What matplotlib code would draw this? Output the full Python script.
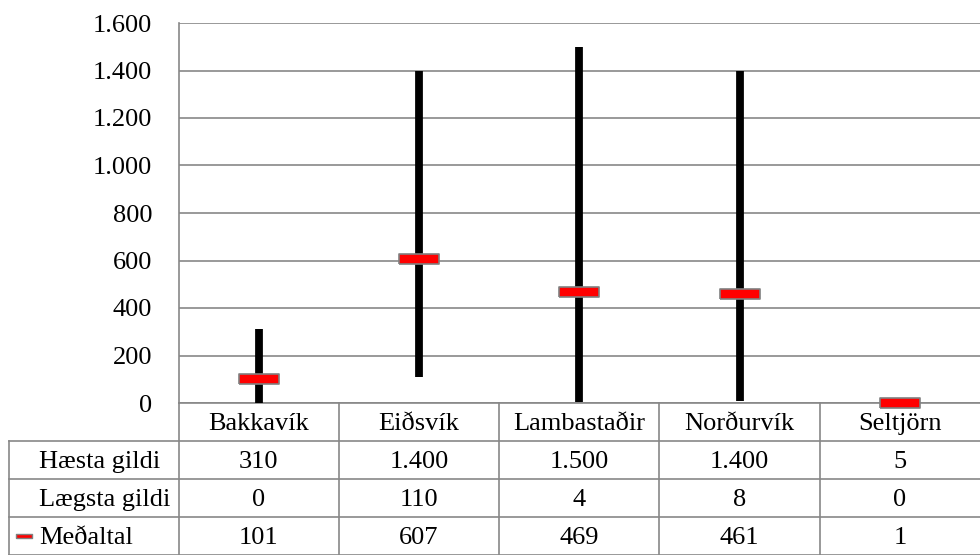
import numpy as np
import matplotlib.pyplot as plt
from matplotlib.lines import Line2D
from matplotlib.ticker import FuncFormatter

stadir = ['Bakkavík', 'Eiðsvík', 'Lambastaðir', 'Norðurvík', 'Seltjörn']
haesta = [310, 1400, 1500, 1400, 5]
laegsta = [0, 110, 4, 8, 0]
medaltal = [101, 607, 469, 461, 1]
radir = ['Hæsta gildi', 'Lægsta gildi', 'Meðaltal']

def fmt(v):
    return f"{int(v):,}".replace(",", ".")

plt.rcParams['font.family'] = ['Liberation Serif', 'DejaVu Serif']
plt.rcParams['font.size'] = 19
grey = '#878787'

W, H = 980, 555
fig = plt.figure(figsize=(W/100, H/100), dpi=100)
x0, y0, x1, y1 = 178.5, 23, 980, 403
ax = fig.add_axes([x0/W, 1 - y1/H, (x1 - x0)/W, (y1 - y0)/H])

x = np.arange(len(stadir))
ax.vlines(x, laegsta, haesta, color='black', lw=5.6, zorder=3)

# flat rectangle marker for the mean
box = [(-2, -0.5), (2, -0.5), (2, 0.5), (-2, 0.5), (-2, -0.5)]
ax.plot(x, medaltal, ls='none', marker=box, ms=29, mfc='#ff0000', mec='#808080',
        mew=1.2, zorder=4, clip_on=False)

ax.set_xlim(-0.5, len(stadir) - 0.5)
ax.set_ylim(0, 1600)
ax.set_yticks(np.arange(0, 1601, 200))
ax.yaxis.set_major_formatter(FuncFormatter(lambda v, p: fmt(v)))
ax.tick_params(axis='y', length=0, pad=19)
ax.set_xticks([])
ax.grid(axis='y', color=grey, lw=1.2)
ax.set_axisbelow(True)
for s in ['top', 'right', 'bottom']:
    ax.spines[s].set_visible(False)
ax.spines['left'].set_color(grey)
ax.spines['left'].set_linewidth(1.2)

# data table under the axis
tr = ax.get_xaxis_transform()
rh = 38 / (y1 - y0)
dy = 2 / (y1 - y0)
cw = (x1 - x0) / len(stadir)
xl = -0.5 - (x0 - 9) / cw
xr = len(stadir) - 0.5
nrow = len(radir) + 1

def line(xs, ys):
    ax.add_line(Line2D(xs, ys, transform=tr, color=grey, lw=1.2, clip_on=False))

line([-0.5, xr], [0, 0])
for i in range(1, nrow + 1):
    line([xl, xr], [-i*rh, -i*rh])
line([-0.5, -0.5], [0, -nrow*rh])
line([xl, xl], [-rh, -nrow*rh])
for i in range(1, len(stadir)):
    line([i - 0.5, i - 0.5], [0, -nrow*rh])

for i, s in enumerate(stadir):
    ax.text(i, -0.5*rh - dy, s, transform=tr, ha='center', va='center')

rows = [haesta, laegsta, medaltal]
tx = -0.5 - (x0 - 39) / cw
for r, (lab, vals) in enumerate(zip(radir, rows)):
    yc = -(r + 1.5)*rh - dy
    ax.text(tx, yc, lab, transform=tr, ha='left', va='center')
    for i, v in enumerate(vals):
        ax.text(i, yc, fmt(v), transform=tr, ha='center', va='center')

# legend key in front of Meðaltal
kx = -0.5 - (x0 - 24.5) / cw
ax.add_line(Line2D([kx], [-3.5*rh], transform=tr, ls='none', marker=box, ms=12,
                   mfc='#ff0000', mec='#808080', mew=1.0, clip_on=False))

fig.savefig('out.png', dpi=100)
